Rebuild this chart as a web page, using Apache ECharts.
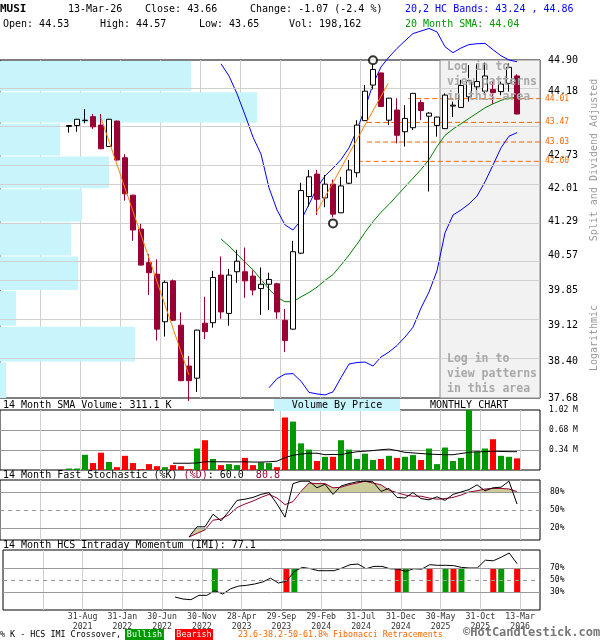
<!DOCTYPE html>
<html><head><meta charset="utf-8">
<script src="https://cdn.jsdelivr.net/npm/echarts@6/dist/echarts.min.js"></script>
<style>html,body{margin:0;padding:0;background:#fff}#c{width:600px;height:640px}</style>
</head><body><div id="c"></div>
<script>
// ---------------- DATA ----------------
const months = ['Jul-21','Aug-21','Sep-21','Oct-21','Nov-21','Dec-21','Jan-22','Feb-22','Mar-22','Apr-22','May-22','Jun-22','Jul-22','Aug-22','Sep-22','Oct-22','Nov-22','Dec-22','Jan-23','Feb-23','Mar-23','Apr-23','May-23','Jun-23','Jul-23','Aug-23','Sep-23','Oct-23','Nov-23','Dec-23','Jan-24','Feb-24','Mar-24','Apr-24','May-24','Jun-24','Jul-24','Aug-24','Sep-24','Oct-24','Nov-24','Dec-24','Jan-25','Feb-25','Mar-25','Apr-25','May-25','Jun-25','Jul-25','Aug-25','Sep-25','Oct-25','Nov-25','Dec-25','Jan-26','Feb-26','Mar-26'];
const openP  = [43.38,43.40,43.51,43.60,43.41,42.93,43.50,42.68,41.86,41.13,40.42,40.18,39.20,40.04,39.13,38.31,38.07,39.17,39.18,40.16,39.37,40.23,40.23,40.14,39.88,39.97,39.98,39.23,39.05,40.62,41.83,42.32,41.80,42.10,41.48,42.12,42.35,43.51,44.32,44.60,43.52,43.75,43.26,43.35,43.92,43.61,43.40,43.33,43.84,43.81,44.05,44.28,44.18,44.22,44.17,44.36,44.53];
const highP  = [43.41,43.55,43.77,43.66,43.66,43.55,43.51,42.76,41.87,41.24,40.60,40.49,40.05,40.07,39.39,38.51,39.04,39.71,40.25,40.55,40.29,40.69,40.74,40.26,40.32,40.21,40.00,39.46,40.88,42.13,42.41,42.41,42.30,42.20,42.26,42.63,43.52,44.32,44.80,44.61,44.03,44.02,43.86,44.13,43.98,43.70,43.60,44.13,43.94,44.44,44.78,44.81,44.84,44.42,44.40,44.82,44.57];
const lowP   = [43.24,43.26,43.45,43.32,42.87,42.92,42.62,41.74,40.88,40.36,39.75,38.82,38.90,39.22,38.01,37.62,37.80,38.85,39.08,39.26,39.12,40.00,39.69,39.74,39.34,39.44,39.26,38.59,39.04,40.60,41.61,41.43,41.60,41.38,41.47,42.10,42.25,43.50,44.22,43.82,43.41,43.00,42.93,43.30,43.52,41.94,43.15,43.32,43.59,43.80,43.94,44.13,44.09,43.89,44.09,44.17,43.65];
const closeP = [43.40,43.54,43.52,43.37,42.88,43.54,42.63,41.89,41.11,40.37,40.21,39.05,40.01,39.23,38.02,38.02,39.03,39.00,40.11,39.40,40.16,40.45,40.04,39.85,39.97,40.07,39.40,38.82,40.65,41.96,42.26,41.77,42.10,41.45,42.06,42.41,43.41,44.18,44.68,43.83,44.02,43.18,43.56,44.13,43.74,43.68,43.59,44.09,43.86,44.31,44.42,44.40,44.53,44.15,44.34,44.73,43.66];
// monthly volume, millions of shares
const volume = [0.025,0.025,0.259,0.118,0.294,0.136,0.048,0.241,0.118,0.015,0.100,0.065,0.048,0.083,0.065,0.015,0.365,0.506,0.188,0.083,0.100,0.083,0.206,0.083,0.130,0.118,0.048,0.893,0.823,0.453,0.347,0.153,0.224,0.224,0.506,0.347,0.188,0.277,0.171,0.188,0.241,0.206,0.224,0.254,0.171,0.365,0.100,0.382,0.153,0.206,1.04,0.312,0.365,0.523,0.241,0.224,0.198];
const N = null;
const volSma = [N,N,N,N,N,N,N,N,N,N,N,N,N,0.115,0.115,0.115,0.12,0.14,0.14,0.14,0.138,0.138,0.14,0.135,0.135,0.14,0.15,0.21,0.25,0.27,0.285,0.285,0.26,0.265,0.26,0.29,0.31,0.32,0.33,0.345,0.355,0.33,0.30,0.29,0.28,0.27,0.265,0.26,0.26,0.28,0.30,0.31,0.31,0.32,0.315,0.312,0.311];
const bandUpper = [N,N,N,N,N,N,N,N,N,N,N,N,N,N,N,N,N,N,N,44.81,44.53,44.12,43.64,43.14,42.76,42.02,41.54,41.22,41.11,41.32,41.66,42.02,42.28,42.45,42.64,42.90,43.30,43.79,44.34,44.74,44.97,45.17,45.35,45.52,45.58,45.64,45.56,45.21,45.07,45.18,45.26,45.28,45.29,45.14,45.00,44.90,44.86];
const bandLower = [N,N,N,N,N,N,N,N,N,N,N,N,N,N,N,N,N,N,N,N,N,N,N,N,N,37.88,38.06,38.15,38.16,38.01,37.79,37.76,37.74,37.80,38.08,38.35,38.38,38.39,38.31,38.49,38.59,38.72,38.89,39.09,39.48,39.81,40.25,41.05,41.43,41.54,41.67,41.84,42.15,42.52,42.90,43.16,43.24];
const sma20 = [N,N,N,N,N,N,N,N,N,N,N,N,N,N,N,N,N,N,N,40.92,40.77,40.60,40.43,40.27,40.07,39.87,39.70,39.61,39.61,39.71,39.80,39.91,40.05,40.17,40.37,40.58,40.81,41.06,41.29,41.49,41.66,41.85,42.04,42.23,42.42,42.64,42.93,43.18,43.32,43.44,43.56,43.68,43.80,43.89,43.97,44.02,44.04];
const stochK = [N,N,N,N,N,N,N,N,N,N,N,N,N,N,N,5,22,22,43,32,48,66,68,71,76,79,60,38,94,98,98,87,93,76,90,94,97,98,97,81,86,71,70,79,69,67,72,66,76,80,84,92,82,87,88,98,60.0];
const stochD = [N,N,N,N,N,N,N,N,N,N,N,N,N,N,N,5,11,17,33,35,42,54,60,65,71,76,70,59,64,81,95,94,94,87,88,92,95,98,95,92,83,79,75,73,73,70,68,69,71,75,80,82,85,86,86,85,80.8];
const imi = [N,N,N,N,N,N,N,N,N,N,N,N,N,21.6,18.3,17.2,24.4,24.5,32.2,26.6,35.5,39.9,41.1,43.3,46.6,53.0,45.0,48.0,64.4,71.0,69.0,65.5,65.5,65.5,70.0,75.5,76.6,68.8,72.7,72.7,68.8,68.2,64.4,68.8,68.0,75.5,74.5,74.5,74.0,71.0,70.0,70.0,83.0,82.0,88.0,95.0,77.1];
const bullishIdx = [18,28,42,47,49,54];
const bearishIdx = [27,41,45,48,53,56];
const priceTicks = ['44.90','44.18','43.47','42.73','42.01','41.29','40.57','39.85','39.12','38.40','37.68'];
// volume by price per band between consecutive ticks (top band first), millions
const vbpVolume = [1.91,2.57,0.60,1.09,0.82,0.71,0.78,0.16,1.35,0.06];
const fibLevels = ['44.01','43.47','43.03','42.60'];
const fibStartIdx = [42.4,37.25,37.25,36.1];
const trendLines = [[[4,43.57],[15,38.13]],[[30.9,41.48],[39.9,44.36]]];
const pivotHigh = [38,44.80];
const pivotLow = [33,41.38];
const xLabels = ['31-Aug\n2021','31-Jan\n2022','30-Jun\n2022','30-Nov\n2022','28-Apr\n2023','29-Sep\n2023','29-Feb\n2024','31-Jul\n2024','31-Dec\n2024','30-May\n2025','31-Oct\n2025','13-Mar\n2026'];

// ---------------- CHART ----------------
const L = Math.log;
const F = '"DejaVu Sans Mono", monospace';
const XMIN = -8.625, XMAX = 58.875;        // month index axis: 8 px per month
const YMIN = L(+priceTicks[priceTicks.length-1]), YMAX = L(+priceTicks[0]);
const MAROON = '#990033', GREEN = '#009900', RED = '#ff0000', ORANGE = '#ff6600';

const grids = [
  {left:0, top:60, width:540, height:338},
  {left:0, top:410, width:540, height:60},
  {left:0, top:480, width:540, height:60},
  {left:0, top:550, width:540, height:60}
].map(g => Object.assign(g, {show:true, borderColor:'#000', borderWidth:1, backgroundColor:'transparent'}));

const xAxis = [];
grids.forEach((g, gi) => {
  xAxis.push({type:'value', gridIndex:gi, position:'bottom', min:XMIN, max:XMAX, show:false});
  xAxis.push({type:'value', gridIndex:gi, position:'bottom', min:0, max:67.5, interval:5,
    axisLine:{show:false}, axisTick:{show:false},
    axisLabel: gi === 3 ? {show:true, margin:2, color:'#333', fontFamily:F, fontSize:8.2, lineHeight:10,
      formatter: v => { const r = Math.round(v/5); const k = r - 2; return (Math.abs(v - r*5) < 1e-6 && k >= 0 && k < xLabels.length) ? xLabels[k] : ''; } } : {show:false},
    splitLine:{show:true, showMinLine:false, showMaxLine:false, lineStyle:{color:'#cfcfcf', width:1}}});
});
xAxis.push({type:'value', gridIndex:0, position:'bottom', min:0, max:5.4, show:false}); // 8: volume-by-price

const labelTicks = priceTicks.filter(t => fibLevels.indexOf(t) < 0).map(t => L(+t));
const yAxis = [
  {type:'value', gridIndex:0, min:YMIN, max:YMAX, position:'right',
    axisLine:{show:false}, axisTick:{show:false}, splitLine:{show:false},
    axisLabel:{show:true, customValues:labelTicks, showMinLabel:true, showMaxLabel:true,
      formatter: v => Math.exp(v).toFixed(2), margin:8, color:'#000', fontFamily:F, fontSize:10,
      verticalAlign:'middle', lineHeight:10, padding:[0,0,9,0]}},
  {type:'value', gridIndex:1, min:0, max:1.02, interval:0.34, position:'right',
    axisLine:{show:false}, axisTick:{show:false},
    axisLabel:{margin:9, color:'#000', fontFamily:F, fontSize:8, formatter: v => v > 0.01 ? v.toFixed(2)+' M' : ''},
    splitLine:{show:true, showMinLine:false, showMaxLine:false, lineStyle:{color:'#999'}}},
  {type:'value', gridIndex:2, min:0, max:100, show:false},
  {type:'value', gridIndex:3, min:0, max:100, show:false}
];

const lnPairs = arr => arr.map((v,i) => [i, v == null ? null : L(v)]);
const rawPairs = arr => arr.map((v,i) => [i, v]);

const tickMarks = priceTicks.slice(1, -1).map(t => ({yAxis: L(+t)}));

function refLines(levels, dashedLevel) {
  return {silent:true, symbol:'none', animation:false,
    data: levels.map(v => ({yAxis:v, lineStyle:{color:'#999', width:1, type: v === dashedLevel ? [4,4] : 'solid'},
      label:{show:true, formatter: v + '%', position:'end', distance:10, color:'#000', fontFamily:F, fontSize:8}}))};
}

function upperFill(p, api) {
  const i = api.value(0), d0 = api.value(1), d1 = api.value(2), T = 80;
  if (d0 <= T && d1 <= T) return null;
  let pts;
  if (d0 >= T && d1 >= T) pts = [[i,T],[i,d0],[i+1,d1],[i+1,T]];
  else if (d0 < T) { const t = (T-d0)/(d1-d0); pts = [[i+t,T],[i+1,d1],[i+1,T]]; }
  else { const t = (d0-T)/(d0-d1); pts = [[i,T],[i,d0],[i+t,T]]; }
  return {type:'polygon', shape:{points: pts.map(q => api.coord(q))}, style:{fill:'#cccc99'}};
}
function lowerFill(p, api) {
  const i = api.value(0), T = 20;
  const k0 = Math.min(api.value(1), T), k1 = Math.min(api.value(2), T);
  const d0 = Math.min(api.value(3), k0), d1 = Math.min(api.value(4), k1);
  if (k0 - d0 <= 0 && k1 - d1 <= 0) return null;
  const pts = [[i,k0],[i+1,k1],[i+1,d1],[i,d0]];
  return {type:'polygon', shape:{points: pts.map(q => api.coord(q))}, style:{fill:'#cccc99'}};
}
const stochSeg = [];
for (let i = 0; i < stochK.length-1; i++) if (stochK[i] != null && stochK[i+1] != null)
  stochSeg.push([i, stochK[i], stochK[i+1], stochD[i], stochD[i+1]]);

const series = [
  // shaded "log in" region
  {type:'line', xAxisIndex:1, yAxisIndex:0, data:[], z:-5, silent:true,
   markArea:{silent:true, itemStyle:{color:'#f2f2f2', borderColor:'#8a8a8a', borderWidth:1},
     data:[[{xAxis:55},{xAxis:67.5}]]}},
  // volume by price
  {type:'custom', xAxisIndex:8, yAxisIndex:0, z:1, silent:true,
   data: vbpVolume.map((v,i) => [v, L(+priceTicks[i]), L(+priceTicks[i+1])]),
   encode:{x:0, y:[1,2]},
   renderItem:(p, api) => { const a = api.coord([0, api.value(1)]), b = api.coord([api.value(0), api.value(2)]);
     return {type:'rect', shape:{x:a[0], y:a[1]+1, width:b[0]-a[0], height:b[1]-a[1]-1}, style:{fill:'#c8f5fc'}}; }},
  // price grid lines
  {type:'line', xAxisIndex:0, yAxisIndex:0, data:[], z:2,
   markLine:{silent:true, symbol:'none', animation:false, label:{show:false},
     lineStyle:{color:'#d0d0d0', width:1, type:'solid'}, data:tickMarks}},
  // fibonacci retracement lines
  ...fibLevels.map((t, i) => ({type:'line', xAxisIndex:0, yAxisIndex:0, z:3, showSymbol:false, silent:true,
    data:[[fibStartIdx[i], L(+t)], [XMAX, L(+t)]],
    lineStyle:{color:ORANGE, width:1, type:[5,3]},
    endLabel:{show:true, formatter:t, distance:5, color:ORANGE, fontFamily:F, fontSize:8}})),
  // 20 month SMA
  {type:'line', xAxisIndex:0, yAxisIndex:0, data:lnPairs(sma20), showSymbol:false, z:4,
   lineStyle:{color:'#008000', width:1}, silent:true},
  // bands
  {type:'line', xAxisIndex:0, yAxisIndex:0, data:lnPairs(bandUpper), showSymbol:false, z:4, clip:false,
   lineStyle:{color:'#0000ff', width:1}, silent:true},
  {type:'line', xAxisIndex:0, yAxisIndex:0, data:lnPairs(bandLower), showSymbol:false, z:4,
   lineStyle:{color:'#0000ff', width:1}, silent:true},
  // candles
  {type:'candlestick', xAxisIndex:0, yAxisIndex:0, z:5, barWidth:6,
   data: months.map((m,i) => [i, L(openP[i]), L(closeP[i]), L(lowP[i]), L(highP[i])]),
   encode:{x:0, y:[1,2,3,4]},
   itemStyle:{color:'#ffffff', color0:MAROON, borderColor:'#000', borderColor0:MAROON, borderWidth:1}},
  // trend lines
  ...trendLines.map(tl => ({type:'line', xAxisIndex:0, yAxisIndex:0, z:6, showSymbol:false, silent:true,
    data: tl.map(q => [q[0], L(q[1])]), lineStyle:{color:'#ff8000', width:1}})),
  // pivot circles
  {type:'scatter', xAxisIndex:0, yAxisIndex:0, z:6, symbol:'emptyCircle', symbolSize:8, silent:true,
   itemStyle:{color:'#000', borderColor:'#000', borderWidth:1},
   data:[{value:[pivotHigh[0], L(pivotHigh[1])], symbolOffset:[0,-4]}, {value:[pivotLow[0], L(pivotLow[1])], symbolOffset:[0,6]}]},
  // volume
  {type:'bar', xAxisIndex:2, yAxisIndex:1, barWidth:6, z:3,
   data: volume.map((v,i) => ({value:[i, v], itemStyle:{color: closeP[i] >= openP[i] ? GREEN : RED}}))},
  {type:'line', xAxisIndex:2, yAxisIndex:1, data:rawPairs(volSma), showSymbol:false, z:4,
   lineStyle:{color:'#000', width:1}, silent:true},
  // stochastic
  {type:'line', xAxisIndex:4, yAxisIndex:2, data:[], z:2, markLine: refLines([80,50,20], 50)},
  {type:'custom', xAxisIndex:4, yAxisIndex:2, z:3, silent:true, data:stochSeg, encode:{x:0, y:[1,2]},
   renderItem:(p, api) => upperFill(p, {value: k => api.value([0,3,4][k]), coord: api.coord})},
  {type:'custom', xAxisIndex:4, yAxisIndex:2, z:3, silent:true, data:stochSeg, encode:{x:0, y:[1,2]},
   renderItem: lowerFill},
  {type:'line', xAxisIndex:4, yAxisIndex:2, data:rawPairs(stochD), showSymbol:false, z:4,
   lineStyle:{color:MAROON, width:1}, silent:true},
  {type:'line', xAxisIndex:4, yAxisIndex:2, data:rawPairs(stochK), showSymbol:false, z:5,
   lineStyle:{color:'#000', width:1}, silent:true},
  // IMI
  {type:'line', xAxisIndex:6, yAxisIndex:3, data:[], z:2, markLine: refLines([70,50,30], 50)},
  {type:'custom', xAxisIndex:6, yAxisIndex:3, z:3, silent:true,
   data: bullishIdx.map(i => [i,70,30,1]).concat(bearishIdx.map(i => [i,70,30,0])),
   encode:{x:0, y:[1,2]},
   renderItem:(p, api) => { const a = api.coord([api.value(0), api.value(1)]), b = api.coord([api.value(0), api.value(2)]);
     return {type:'rect', shape:{x:a[0]-3, y:a[1], width:6, height:b[1]-a[1]}, style:{fill: api.value(3) ? GREEN : RED}}; }},
  {type:'line', xAxisIndex:6, yAxisIndex:3, data:rawPairs(imi), showSymbol:false, z:4,
   lineStyle:{color:'#000', width:1}, silent:true}
];

function txt(x, y, text, o) {
  o = o || {};
  return {type:'text', x:x, y:y, z:100, rotation:o.rot || 0, silent:true,
    style:{text:text, fill:o.fill || '#000', font:(o.bold ? 'bold ' : '') + (o.size || 10) + 'px ' + F,
      textAlign:o.align || 'left', textVerticalAlign:'middle'}};
}
const graphic = [
  txt(0, 9, 'MUSI', {bold:true, size:11}),
  txt(68, 9, '13-Mar-26'),
  txt(145, 9, 'Close: 43.66'),
  txt(250, 9, 'Change: -1.07 (-2.4 %)'),
  txt(405, 9, '20,2 HC Bands: 43.24 , 44.86', {fill:'#0000ff'}),
  txt(3, 24, 'Open: 44.53'),
  txt(100, 24, 'High: 44.57'),
  txt(199, 24, 'Low: 43.65'),
  txt(289, 24, 'Vol: 198,162'),
  txt(405, 24, '20 Month SMA: 44.04', {fill:GREEN}),
  txt(447, 67, 'Log in to', {bold:true, size:11.5, fill:'#a8a8a8'}),
  txt(447, 82, 'view patterns', {bold:true, size:11.5, fill:'#a8a8a8'}),
  txt(447, 97, 'in this area', {bold:true, size:11.5, fill:'#a8a8a8'}),
  txt(447, 359, 'Log in to', {bold:true, size:11.5, fill:'#a8a8a8'}),
  txt(447, 374, 'view patterns', {bold:true, size:11.5, fill:'#a8a8a8'}),
  txt(447, 389, 'in this area', {bold:true, size:11.5, fill:'#a8a8a8'}),
  txt(594, 160, 'Split and Dividend Adjusted', {align:'center', rot:Math.PI/2, fill:'#999'}),
  txt(594, 338, 'Logarithmic', {align:'center', rot:Math.PI/2, fill:'#999'}),
  txt(3, 405, '14 Month SMA Volume: 311.1 K'),
  {type:'rect', shape:{x:274, y:399, width:126, height:12}, style:{fill:'#c8f5fc'}, z:99, silent:true},
  txt(337, 405, 'Volume By Price', {align:'center'}),
  txt(430, 405, 'MONTHLY CHART'),
  {type:'text', x:3, y:475, z:100, silent:true, style:{text:'{a|14 Month Fast Stochastic (%K) }{b|(%D)}{a|: 60.0  }{b|80.8}',
    textVerticalAlign:'middle', font:'10px ' + F,
    rich:{a:{fill:'#000', font:'10px ' + F}, b:{fill:MAROON, font:'10px ' + F}}}},
  txt(3, 545, '14 Month HCS Intraday Momentum (IMI): 77.1'),
  txt(0, 635, '% K - HCS IMI Crossover,', {size:8.4}),
  {type:'rect', shape:{x:125, y:629, width:39, height:11}, style:{fill:GREEN}, z:99, silent:true},
  txt(144.5, 635, 'Bullish', {size:8.4, fill:'#fff', align:'center'}),
  {type:'rect', shape:{x:175, y:629, width:38, height:11}, style:{fill:RED}, z:99, silent:true},
  txt(194, 635, 'Bearish', {size:8.4, fill:'#fff', align:'center'}),
  txt(238, 635, '23.6-38.2-50-61.8% Fibonacci Retracements', {size:8.3, fill:ORANGE}),
  txt(463, 633, '\u00a9HotCandlestick.com', {size:12, bold:true, fill:'#777'})
];

const chart = echarts.init(document.getElementById('c'), null, {renderer:'canvas'});
chart.setOption({animation:false, backgroundColor:'#fff', grid:grids, xAxis:xAxis, yAxis:yAxis, series:series, graphic:graphic});
</script></body></html>
